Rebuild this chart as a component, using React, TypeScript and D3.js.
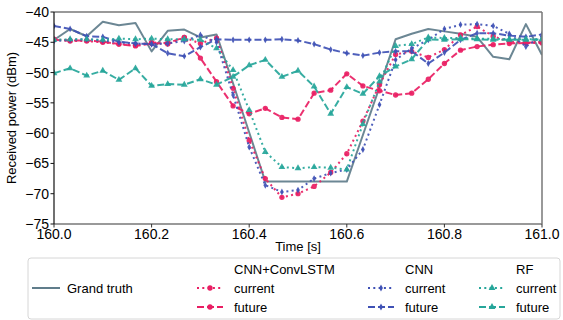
import React from "react";
import * as d3 from "d3";

// Sample times (30 Hz) over the one-second window
const TIME = [
  160.0, 160.033, 160.067, 160.1, 160.133, 160.167, 160.2, 160.233, 160.267, 160.3,
  160.333, 160.367, 160.4, 160.433, 160.467, 160.5, 160.533, 160.567, 160.6, 160.633,
  160.667, 160.7, 160.733, 160.767, 160.8, 160.833, 160.867, 160.9, 160.933, 160.967, 161.0,
];

const GRAND_TRUTH = [
  -44.6, -42.8, -44.0, -41.6, -42.2, -41.8, -46.5, -43.1, -42.9, -44.2,
  -43.7, -51.8, -59.9, -68.0, -68.0, -68.0, -68.0, -68.0, -68.0, -60.3,
  -52.4, -44.5, -43.6, -42.8, -43.2, -43.6, -44.1, -47.4, -47.8, -42.0, -47.1,
];

const CONVLSTM_CURRENT = [
  -44.5, -44.8, -44.8, -45.0, -45.3, -45.5, -45.0, -45.3, -44.2, -45.2,
  -44.3, -52.6, -61.2, -67.5, -70.6, -70.0, -68.8, -66.5, -63.4, -58.0,
  -52.0, -47.0, -46.5, -47.5, -46.2, -43.8, -42.4, -44.0, -44.9, -45.1, -45.1,
];

const CONVLSTM_FUTURE = [
  -44.6, -44.7, -44.7, -44.9, -45.3, -45.6, -45.2, -45.1, -44.2, -47.6,
  -51.5, -55.5, -56.8, -55.9, -57.4, -57.7, -53.4, -52.9, -50.2, -52.2,
  -53.0, -53.7, -53.4, -51.1, -48.5, -46.3, -45.7, -45.4, -45.2, -45.1, -44.9,
];

const CNN_CURRENT = [
  -44.8, -44.6, -44.5, -44.7, -45.0, -45.2, -45.3, -45.2, -44.8, -43.8,
  -45.0, -53.7, -62.3, -68.6, -69.7, -69.4, -67.5, -66.6, -66.0, -62.7,
  -55.3, -47.9, -46.0, -44.6, -42.8, -42.1, -42.0, -42.3, -43.6, -45.7, -44.0,
];

const CNN_FUTURE = [
  -42.3, -42.8, -44.0, -44.1, -44.9, -45.2, -45.3, -46.8, -47.3, -45.8,
  -44.5, -44.6, -44.6, -44.6, -44.5, -44.7, -45.3, -46.2, -46.8, -47.2,
  -46.7, -46.5, -46.5, -48.5, -46.7, -44.6, -43.5, -43.5, -43.9, -44.1, -43.7,
];

const RF_CURRENT = [
  -44.6, -44.5, -44.5, -44.6, -44.4, -44.5, -44.4, -44.5, -44.5, -44.6,
  -46.0, -49.6, -56.2, -63.1, -65.6, -65.8, -65.6, -65.7, -66.0, -58.5,
  -51.5, -45.6, -45.3, -44.2, -44.3, -44.3, -44.4, -44.4, -44.5, -44.5, -44.5,
];

const RF_FUTURE = [
  -50.1, -49.3, -50.5, -49.7, -51.2, -49.3, -52.2, -51.9, -52.0, -51.1,
  -52.0, -50.7, -48.8, -47.9, -50.7, -49.7, -52.3, -56.8, -52.4, -53.5,
  -50.6, -49.0, -47.8, -44.5, -44.6, -44.5, -44.5, -44.6, -44.6, -44.6, -44.5,
];

const X_TICKS = [160.0, 160.2, 160.4, 160.6, 160.8, 161.0];
const Y_TICKS = [-40, -45, -50, -55, -60, -65, -70, -75];

const MODEL_NAMES = ["CNN+ConvLSTM", "CNN", "RF"];
const HORIZONS = ["current", "future"];

const COLORS = {
  truth: "#607d8b",
  convlstm: "#e91e63",
  cnn: "#3f51b5",
  rf: "#26a69a",
};

const W = 563;
const H = 320;
const M = { left: 54, right: 542, top: 12, bottom: 224 };
const FONT = "'Liberation Sans', Arial, Helvetica, sans-serif";

const DASHED = "7,3";
const DOTTED = "2,3.3";

type MarkerKind = "circle" | "thinDiamond" | "triangle";

function markerPath(kind: MarkerKind): string {
  if (kind === "circle") return d3.symbol(d3.symbolCircle, 22)() as string;
  if (kind === "triangle") return d3.symbol(d3.symbolTriangle, 20)() as string;
  // narrow diamond, taller than wide
  return "M0,-3.4L1.9,0L0,3.4L-1.9,0Z";
}

interface Series {
  values: number[];
  color: string;
  dash: string | null;
  marker: MarkerKind | null;
}

const SERIES: Series[] = [
  { values: GRAND_TRUTH, color: COLORS.truth, dash: null, marker: null },
  { values: CONVLSTM_CURRENT, color: COLORS.convlstm, dash: DOTTED, marker: "circle" },
  { values: CONVLSTM_FUTURE, color: COLORS.convlstm, dash: DASHED, marker: "circle" },
  { values: CNN_CURRENT, color: COLORS.cnn, dash: DOTTED, marker: "thinDiamond" },
  { values: CNN_FUTURE, color: COLORS.cnn, dash: DASHED, marker: "thinDiamond" },
  { values: RF_CURRENT, color: COLORS.rf, dash: DOTTED, marker: "triangle" },
  { values: RF_FUTURE, color: COLORS.rf, dash: DASHED, marker: "triangle" },
];

export default function App() {
  const x = d3.scaleLinear().domain([160, 161]).range([M.left, M.right]);
  const y = d3.scaleLinear().domain([-75, -40]).range([M.bottom, M.top]);

  const line = (vals: number[]) =>
    d3
      .line<number>()
      .x((_, i) => x(TIME[i]))
      .y((v) => y(v))(vals) as string;

  // legend layout
  const legendTop = 258;
  const rowY = [269, 288, 307];
  const groupCols = [
    { handleX: 197, textX: 234, color: COLORS.convlstm, marker: "circle" as MarkerKind },
    { handleX: 368, textX: 405, color: COLORS.cnn, marker: "thinDiamond" as MarkerKind },
    { handleX: 479, textX: 516, color: COLORS.rf, marker: "triangle" as MarkerKind },
  ];
  const handleLen = 26;

  return (
    <svg
      width={W}
      height={H}
      style={{ position: "absolute", left: 0, top: 0, background: "#fff" }}
      fontFamily={FONT}
    >
      <rect x={0} y={0} width={W} height={H} fill="#fff" />
      <defs>
        <clipPath id="plot-clip">
          <rect x={M.left} y={M.top} width={M.right - M.left} height={M.bottom - M.top} />
        </clipPath>
      </defs>

      {/* series */}
      <g clipPath="url(#plot-clip)">
        {SERIES.map((s, k) => (
          <g key={k}>
            <path
              d={line(s.values)}
              fill="none"
              stroke={s.color}
              strokeWidth={2}
              strokeDasharray={s.dash ?? undefined}
              strokeLinejoin="round"
              opacity={0.92}
            />
            {s.marker &&
              s.values.map((v, i) => (
                <path
                  key={i}
                  d={markerPath(s.marker as MarkerKind)}
                  transform={`translate(${x(TIME[i])},${y(v)})`}
                  fill={s.color}
                  opacity={0.92}
                />
              ))}
          </g>
        ))}
      </g>

      {/* frame */}
      <line x1={M.left} x2={M.right} y1={M.top} y2={M.top} stroke="#777" strokeWidth={1.5} />
      <line x1={M.right} x2={M.right} y1={M.top} y2={M.bottom} stroke="#777" strokeWidth={1.5} />
      <line x1={M.left} x2={M.right} y1={M.bottom} y2={M.bottom} stroke="#777" strokeWidth={1.5} />
      <line x1={M.left} x2={M.left} y1={M.top} y2={M.bottom} stroke="#111" strokeWidth={1.2} />

      {/* y axis */}
      {Y_TICKS.map((t) => (
        <g key={t} transform={`translate(0,${y(t)})`}>
          <line x1={M.left - 3.5} x2={M.left} stroke="#111" strokeWidth={1} />
          <text x={M.left - 5} dy="0.36em" textAnchor="end" fontSize={14} fill="#000">
            {d3.format("d")(t).replace("-", "\u2212")}
          </text>
        </g>
      ))}
      <text
        transform={`translate(16,${(M.top + M.bottom) / 2}) rotate(-90)`}
        textAnchor="middle"
        fontSize={13}
        fill="#000"
      >
        Received power (dBm)
      </text>

      {/* x axis */}
      {X_TICKS.map((t) => (
        <g key={t} transform={`translate(${x(t)},0)`}>
          <line y1={M.bottom} y2={M.bottom + 3.5} stroke="#333" strokeWidth={1} />
          <text y={238.5} textAnchor="middle" fontSize={14} fill="#000">
            {d3.format(".1f")(t)}
          </text>
        </g>
      ))}
      <text x={(M.left + M.right) / 2} y={251} textAnchor="middle" fontSize={13} fill="#000">
        Time [s]
      </text>

      {/* legend */}
      <rect
        x={28}
        y={legendTop}
        width={532}
        height={61}
        rx={3}
        fill="#fff"
        stroke="#d6d6d6"
        strokeWidth={1}
      />
      <line x1={32} x2={60} y1={rowY[1]} y2={rowY[1]} stroke={COLORS.truth} strokeWidth={2} />
      <text x={67} y={rowY[1]} dy="0.36em" fontSize={13} fill="#000">
        Grand truth
      </text>
      {MODEL_NAMES.map((name, c) => {
        const col = groupCols[c];
        return (
          <g key={name}>
            <text x={col.textX} y={rowY[0]} dy="0.36em" fontSize={13} fill="#000">
              {name}
            </text>
            {HORIZONS.map((h, r) => {
              const yy = rowY[r + 1];
              return (
                <g key={h}>
                  <line
                    x1={col.handleX}
                    x2={col.handleX + handleLen}
                    y1={yy}
                    y2={yy}
                    stroke={col.color}
                    strokeWidth={2}
                    strokeDasharray={r === 0 ? DOTTED : DASHED}
                  />
                  <path
                    d={markerPath(col.marker)}
                    transform={`translate(${col.handleX + handleLen / 2},${yy})`}
                    fill={col.color}
                  />
                  <text x={col.textX} y={yy} dy="0.36em" fontSize={13} fill="#000">
                    {h}
                  </text>
                </g>
              );
            })}
          </g>
        );
      })}
    </svg>
  );
}
